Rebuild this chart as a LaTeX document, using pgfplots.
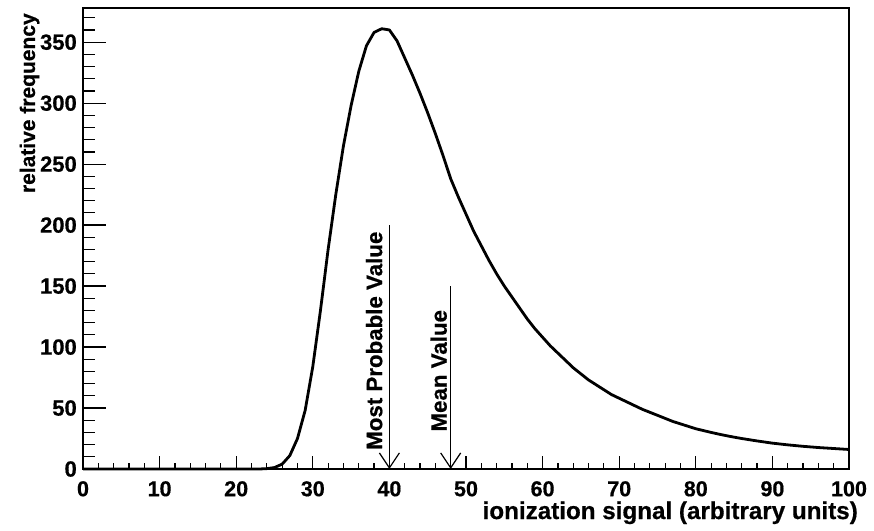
\documentclass[border=0pt]{standalone}
\usepackage{fontspec}
\setmainfont{Liberation Sans}[BoldFeatures={FakeBold=0.6}]
\usepackage{pgfplots}
\usepackage{pgfplotstable}
\pgfplotsset{compat=1.18}
\usetikzlibrary{arrows.meta}

\pgfplotstableread{
x y
0 0
1 0
2 0
3 0
4 0
5 0
6 0
7 0
8 0
9 0
10 0
11 0
12 0
13 0
14 0
15 0
16 0
17 0
18 0
19 0
20 0
21 0
22 0
23 0
24 0.3
25 1.2
26 4
27 11
28 25
29 48
30 84
31 130
32 180
33 225
34 265
35 298
36 326
37 347
38 358
39 361
40 360
41 351
42 337
43 323
44 308
45 292
46 275
47 257
48 238
49 223
50 209
51 195
52 183
53 171
54 160
55 150
56 141
57 132
58 123
59 115
60 108
61 101
62 95
63 89
64 83
65 78
66 73
67 69
68 65
69 61
70 58
71 55
72 52
73 49
74 46.5
75 44
76 41.5
77 39
78 37
79 35
80 33
81 31.5
82 30
83 28.6
84 27.3
85 26.1
86 25
87 24
88 23
89 22.1
90 21.2
91 20.5
92 19.8
93 19.2
94 18.6
95 18.1
96 17.6
97 17.2
98 16.8
99 16.4
100 16
}\landau

\pgfplotstableread{
x y
40 200
40 0
}\mpv

\pgfplotstableread{
x y
48 150
48 0
}\meanv

\begin{document}
\begin{tikzpicture}
\useasboundingbox (0,0) rectangle (874pt,530pt);
% y ticks axis
\begin{axis}[
  at={(83pt,61pt)}, anchor=south west,
  scale only axis, width=766pt, height=461pt,
  xmin=0, xmax=100, ymin=0, ymax=378,
  xtick=\empty,
  ytick={0,50,...,350},
  minor ytick={10,20,...,370},
  tick pos=left, tick align=inside,
  major tick length=23pt, minor tick length=12pt,
  tick style={black, line width=1.2pt},
  axis line style={draw=none},
  /pgf/number format/assume math mode=true,
  yticklabel style={font=\fontsize{22}{22}\selectfont\bfseries, inner sep=0pt, xshift=-6pt},
]
\end{axis}
% main axis
\begin{axis}[
  at={(83pt,61pt)}, anchor=south west,
  scale only axis, width=766pt, height=461pt,
  xmin=0, xmax=100, ymin=0, ymax=378,
  xtick={0,10,...,100},
  minor xtick={0,2,...,100},
  ytick=\empty,
  tick pos=left, tick align=inside,
  major tick length=13pt, minor tick length=6.5pt,
  tick style={black, line width=1.2pt},
  axis line style={line width=1.5pt},
  clip=false,
  /pgf/number format/assume math mode=true,
  xticklabel style={font=\fontsize{21.5}{22}\selectfont\bfseries, inner sep=0pt, yshift=-12pt},
  xlabel={ionization signal (arbitrary units)},
  xlabel style={font=\fontsize{24.2}{24}\selectfont\bfseries, at={(rel axis cs:1.0117,-0.1085)}, anchor=base east, inner sep=0pt},
  ylabel={relative frequency},
  ylabel style={font=\fontsize{21}{21}\selectfont\bfseries, at={(rel axis cs:-0.0627,0.989)}, anchor=base east, inner sep=0pt},
]
\addplot[black, line width=2.8pt, line join=round] table[x=x,y=y]{\landau};
\addplot[black, line width=1.2pt, -{Straight Barb[length=15pt, width=20pt, line width=1.2pt]}] table[x=x,y=y]{\mpv};
\addplot[black, line width=1.2pt, -{Straight Barb[length=15pt, width=20pt, line width=1.2pt]}] table[x=x,y=y]{\meanv};
\node[rotate=90, anchor=base west, inner sep=0pt, font=\fontsize{22.3}{22}\selectfont\bfseries] at (axis cs:39.05,15.6) {Most Probable Value};
\node[rotate=90, anchor=base west, inner sep=0pt, font=\fontsize{22.3}{22}\selectfont\bfseries] at (axis cs:47.48,30.6) {Mean Value};
\end{axis}
\end{tikzpicture}
\end{document}
